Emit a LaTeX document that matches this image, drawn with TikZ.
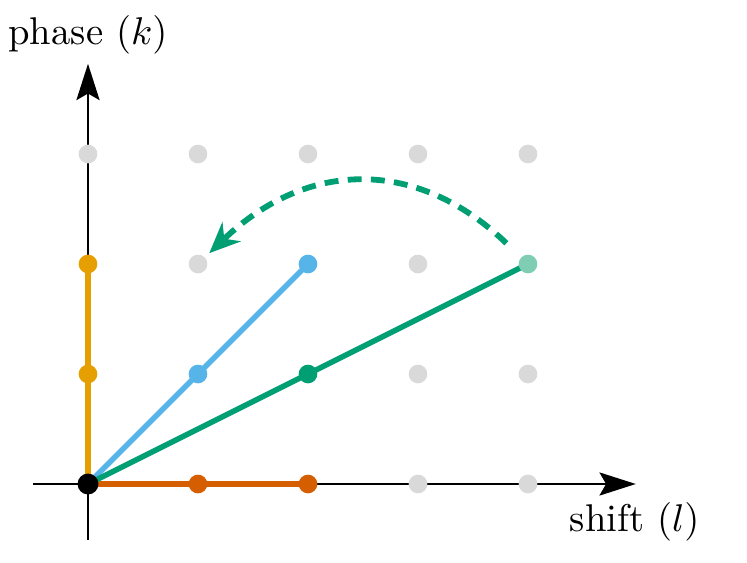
\documentclass[tikz,border=0pt]{standalone}
\usetikzlibrary{arrows.meta}
\definecolor{cgrey}{HTML}{D9D9D9}
\definecolor{corange}{HTML}{E69F00}
\definecolor{cblue}{HTML}{56B4E9}
\definecolor{cgreen}{HTML}{009E73}
\definecolor{cverm}{HTML}{D55E00}
\definecolor{clgreen}{HTML}{7FCEB3}
\begin{document}
\begin{tikzpicture}[
  dot/.style={circle,inner sep=0pt,minimum size=0.17cm,fill=#1},
  axis/.style={line width=0.6pt,-{Stealth[length=0.33cm,width=0.21cm,inset=0.06cm]}},
  vec/.style={line width=1.4pt,draw=#1}]
\useasboundingbox (-0.8,-0.718) rectangle (5.991,4.4);
% axes
\coordinate (xs) at (-0.5,0);
\coordinate (xe) at (4.98,0);
\coordinate (ys) at (0,-0.51);
\coordinate (ye) at (0,3.82);
\draw[axis] (xs) -- (xe);
\draw[axis] (ys) -- (ye);
\node[anchor=base] (yl) at (0,4.0) {phase $(k)$};
\node[anchor=base] (xl) at (4.97,-0.43) {shift $(l)$};
% grey grid dots
\foreach \x/\y in {0/3,1/3,2/3,3/3,4/3,1/2,3/2,3/1,4/1,3/0,4/0}
  \node[dot=cgrey] (g\x\y) at (\x,\y) {};
% coloured vectors
\coordinate (o) at (0,0);
\draw[vec=corange] (o) -- (0,2);
\draw[vec=cverm] (o) -- (2,0);
\draw[vec=cblue] (o) -- (2,2);
\draw[vec=cgreen] (o) -- (4,2);
\node[dot=corange] (o1) at (0,1) {};
\node[dot=corange] (o2) at (0,2) {};
\node[dot=cverm] (v1) at (1,0) {};
\node[dot=cverm] (v2) at (2,0) {};
\node[dot=cblue] (b1) at (1,1) {};
\node[dot=cblue] (b2) at (2,2) {};
\node[dot=cgreen] (gr1) at (2,1) {};
\node[dot=clgreen] (lg) at (4,2) {};
\node[dot=black,minimum size=0.19cm] (origin) at (0,0) {};
% dashed arrow
\draw[cgreen,line width=1.5pt,dash pattern=on 3.6pt off 2.4pt,
  -{Stealth[length=0.28cm,width=0.24cm]},shorten <=0.18cm,shorten >=0.05cm]
  (lg) .. controls (3,2.96) and (2,2.96) .. (g12);
\end{tikzpicture}
\end{document}
